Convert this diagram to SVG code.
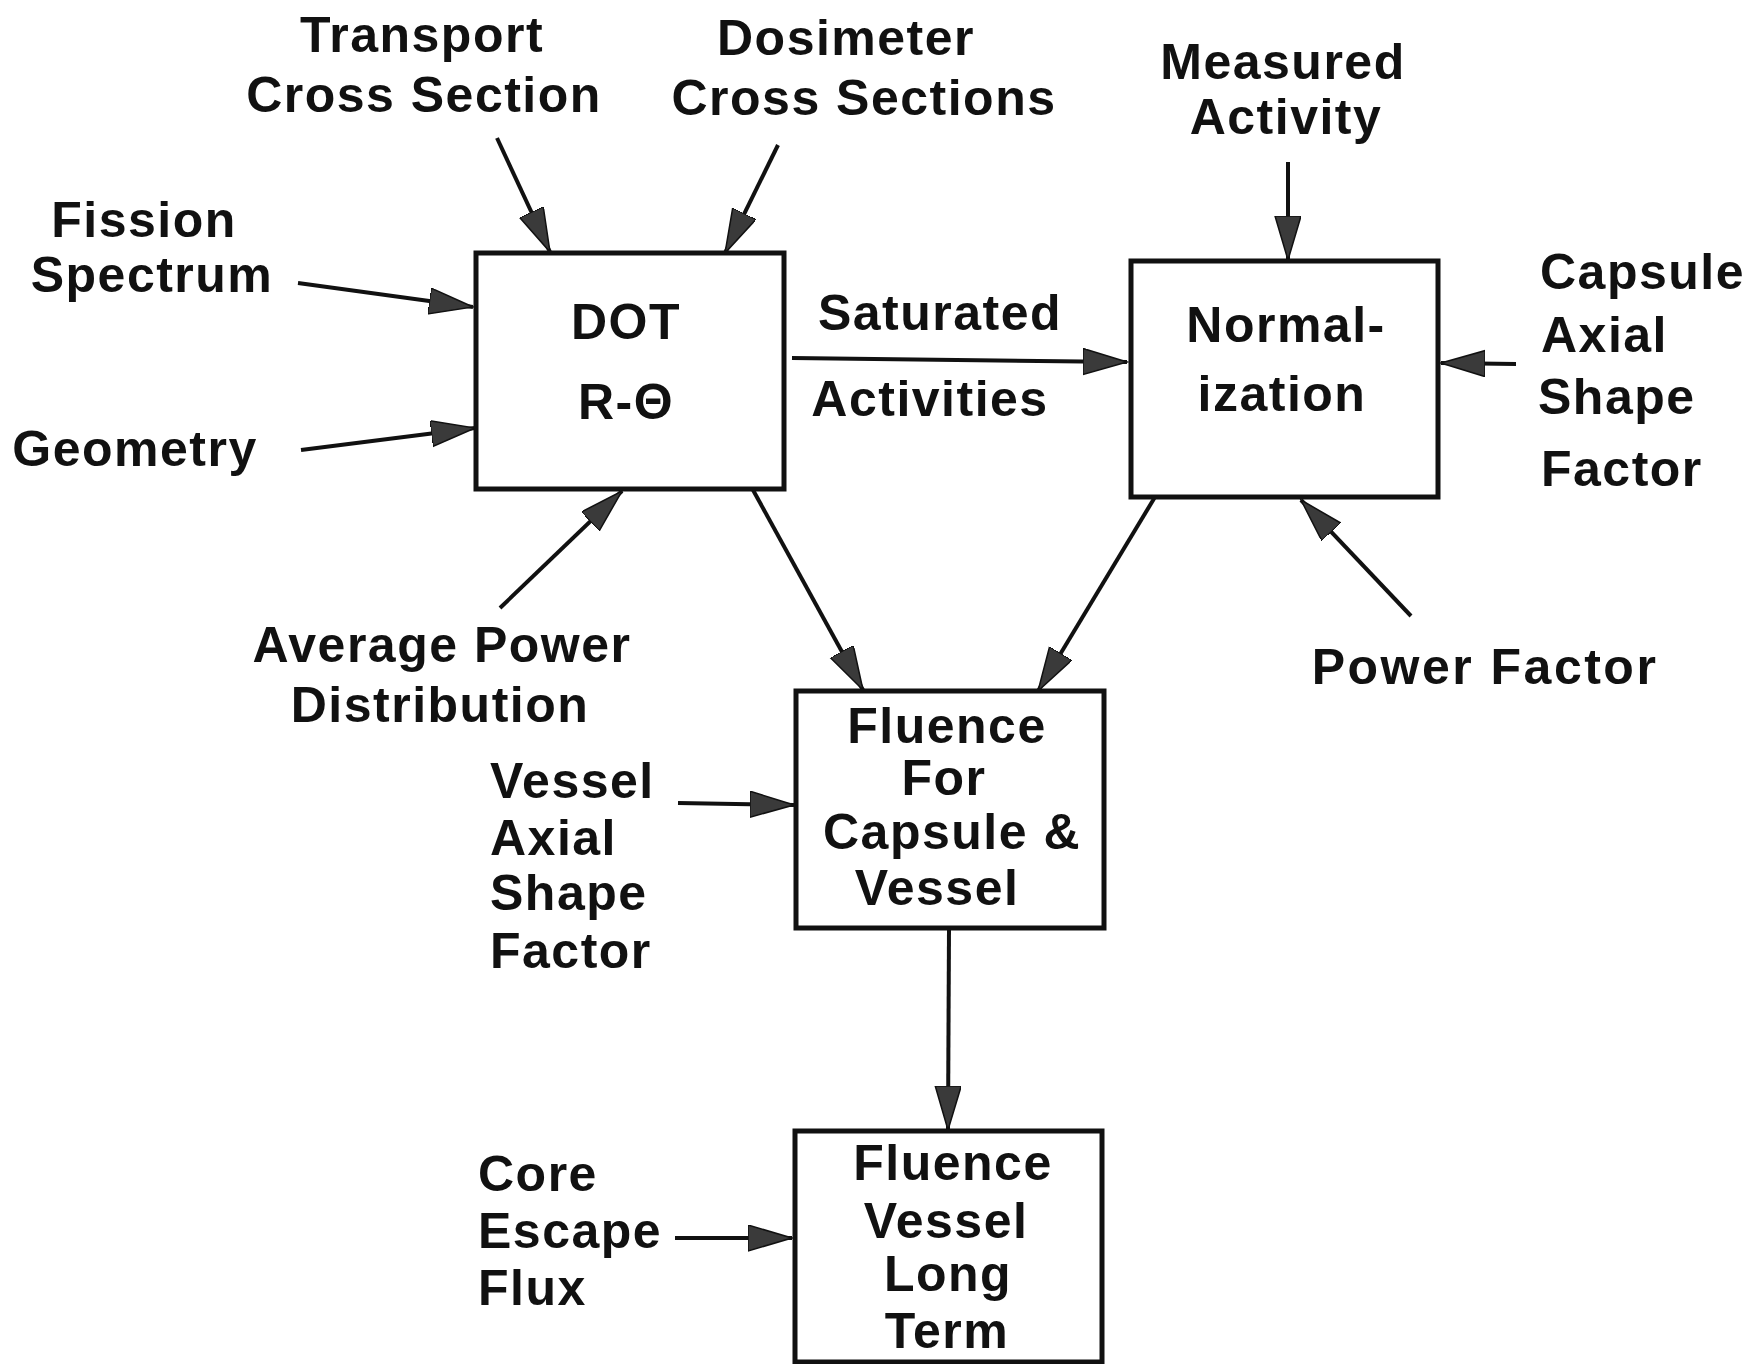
<svg xmlns="http://www.w3.org/2000/svg" width="1751" height="1364" viewBox="0 0 1751 1364">
<style>
  text { font-family: "Liberation Sans", Arial, sans-serif; font-weight: bold; font-size: 50px; letter-spacing: 1.5px; fill: #111; }
  .c { text-anchor: middle; }
  .box { fill: none; stroke: #111; stroke-width: 5; }
  .arr { fill: none; stroke: #111; stroke-width: 4; marker-end: url(#ah); }
</style>
<defs>
  <marker id="ah" markerUnits="userSpaceOnUse" markerWidth="46" markerHeight="28" refX="44" refY="13" orient="auto">
    <path d="M0,0 L44,13 L0,26 Z" fill="#3a3a3a" stroke="#111" stroke-width="1.5"/>
  </marker>
</defs>
<rect width="1751" height="1364" fill="#fff"/>

<g id="connectors">
  <line class="arr" x1="497" y1="138" x2="550" y2="252"/>
  <line class="arr" x1="778" y1="145" x2="725" y2="253"/>
  <line class="arr" x1="298" y1="283" x2="473" y2="307"/>
  <line class="arr" x1="301" y1="450" x2="475" y2="428"/>
  <line class="arr" x1="500" y1="608" x2="622" y2="491"/>
  <line class="arr" x1="792" y1="358" x2="1127" y2="362"/>
  <line class="arr" x1="1288" y1="162" x2="1288" y2="260"/>
  <line class="arr" x1="1516" y1="364" x2="1441" y2="363"/>
  <line class="arr" x1="1411" y1="616" x2="1301" y2="500"/>
  <line class="arr" x1="753" y1="490" x2="863" y2="690"/>
  <line class="arr" x1="1155" y1="497" x2="1038" y2="691"/>
  <line class="arr" x1="678" y1="803" x2="794" y2="805"/>
  <line class="arr" x1="949" y1="928" x2="948" y2="1130"/>
  <line class="arr" x1="675" y1="1238" x2="792" y2="1238"/>
</g>

<g id="dot">
  <rect class="box" x="476" y="253" width="308" height="236"/>
  <text class="c" x="626" y="339">DOT</text>
  <text class="c" x="626" y="419">R-Θ</text>
</g>
<g id="normalization">
  <rect class="box" x="1131" y="261" width="307" height="236"/>
  <text class="c" x="1286" y="342">Normal-</text>
  <text class="c" x="1282" y="411">ization</text>
</g>
<g id="fluence-capsule-vessel">
  <rect class="box" x="796" y="691" width="308" height="237"/>
  <text class="c" x="947" y="743">Fluence</text>
  <text class="c" x="944" y="795">For</text>
  <text class="c" x="952" y="849">Capsule &amp;</text>
  <text class="c" x="937" y="905">Vessel</text>
</g>
<g id="fluence-vessel-long-term">
  <rect class="box" x="795" y="1131" width="307" height="231"/>
  <text class="c" x="953" y="1180">Fluence</text>
  <text class="c" x="946" y="1238">Vessel</text>
  <text class="c" x="948" y="1291">Long</text>
  <text class="c" x="947" y="1348">Term</text>
</g>

<g id="transport-cross-section">
  <text class="c" x="422" y="52">Transport</text>
  <text class="c" x="424" y="112">Cross Section</text>
</g>
<g id="dosimeter-cross-sections">
  <text class="c" x="846" y="55">Dosimeter</text>
  <text class="c" x="864" y="115">Cross Sections</text>
</g>
<g id="measured-activity">
  <text class="c" x="1283" y="79">Measured</text>
  <text class="c" x="1286" y="134">Activity</text>
</g>
<g id="fission-spectrum">
  <text class="c" x="144" y="237">Fission</text>
  <text class="c" x="152" y="292">Spectrum</text>
</g>
<g id="geometry">
  <text class="c" x="135" y="466">Geometry</text>
</g>
<g id="saturated-activities">
  <text class="c" x="940" y="330">Saturated</text>
  <text class="c" x="930" y="416">Activities</text>
</g>
<g id="capsule-axial-shape-factor">
  <text x="1540" y="289">Capsule</text>
  <text x="1541" y="352">Axial</text>
  <text x="1538" y="414">Shape</text>
  <text x="1541" y="486">Factor</text>
</g>
<g id="average-power-distribution">
  <text class="c" x="442" y="662">Average Power</text>
  <text class="c" x="440" y="722">Distribution</text>
</g>
<g id="power-factor">
  <text class="c" x="1485" y="684" style="letter-spacing:2.5px">Power Factor</text>
</g>
<g id="vessel-axial-shape-factor">
  <text x="490" y="798">Vessel</text>
  <text x="490" y="855">Axial</text>
  <text x="490" y="910">Shape</text>
  <text x="490" y="968">Factor</text>
</g>
<g id="core-escape-flux">
  <text x="478" y="1191">Core</text>
  <text x="478" y="1248">Escape</text>
  <text x="478" y="1305">Flux</text>
</g>
</svg>
